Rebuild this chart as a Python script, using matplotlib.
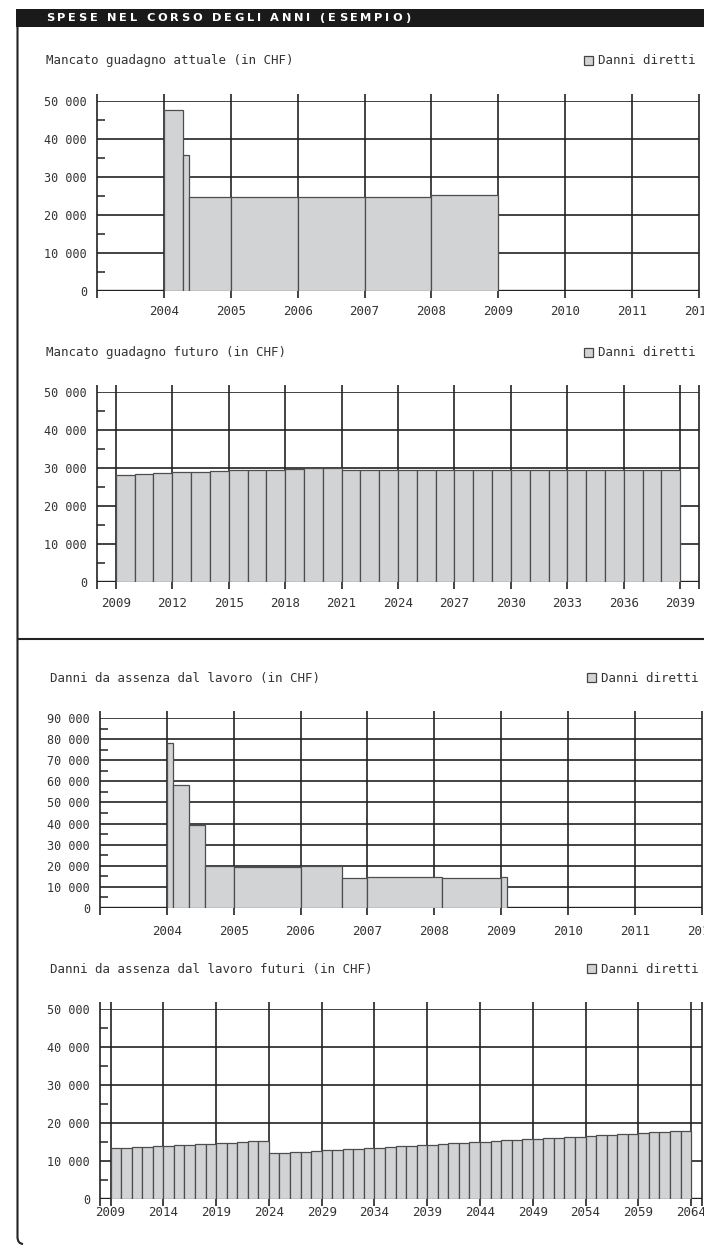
import numpy as np
import matplotlib
matplotlib.use('Agg')
import matplotlib.pyplot as plt
from matplotlib.patches import Rectangle, PathPatch
from matplotlib.path import Path
from matplotlib.font_manager import FontProperties, findfont
from matplotlib.ft2font import FT2Font

W, H = 704, 1246

# --- dati ---
titolo = 'SPESE NEL CORSO DEGLI ANNI (ESEMPIO)'
legenda = 'Danni diretti'

# Mancato guadagno attuale
att_inizio = [2004.0, 2004.28, 2004.38, 2005, 2006, 2007, 2008]
att_fine = [2004.28, 2004.38, 2005, 2006, 2007, 2008, 2009]
att_valori = [47500, 35800, 24650, 24650, 24650, 24800, 25350]
att_anni = [2004, 2005, 2006, 2007, 2008, 2009, 2010, 2011, 2012]

# Mancato guadagno futuro
fut_anni = list(range(2009, 2039))
fut_valori = [28100, 28300, 28500, 28750, 28950, 29100, 29300, 29400, 29500, 29600,
              29800, 29950, 29300, 29300, 29300, 29300, 29300, 29300, 29300, 29300,
              29300, 29300, 29300, 29300, 29300, 29300, 29300, 29300, 29300, 29300]
fut_tick = [2009, 2012, 2015, 2018, 2021, 2024, 2027, 2030, 2033, 2036, 2039]

# Danni da assenza dal lavoro
ass_inizio = [2004.0, 2004.085, 2004.325, 2004.57, 2005, 2006, 2006.62, 2007, 2008.11, 2009]
ass_fine = [2004.085, 2004.325, 2004.57, 2005, 2006, 2006.62, 2007, 2008.11, 2009, 2009.095]
ass_valori = [78300, 58500, 39100, 19800, 19500, 20000, 13900, 14400, 13900, 14400]
ass_anni = [2004, 2005, 2006, 2007, 2008, 2009, 2010, 2011, 2012]

# Danni da assenza dal lavoro futuri
assf_anni = list(range(2009, 2064))
assf_valori = [13420, 13510, 13680, 13860, 13950, 14120, 14210, 14390, 14470, 14650,
               14740, 14910, 15000, 15260, 15440,
               12100, 12280, 12370, 12540, 12720, 12890, 12980, 13160, 13330, 13420,
               13600, 13770, 13950, 14120, 14210, 14390, 14560, 14740, 14910, 15000,
               15180, 15350, 15530, 15610, 15790, 15960, 16050, 16230, 16400, 16490,
               16670, 16840, 17020, 17110, 17280, 17460, 17630, 17720, 17890, 18070]
assf_tick = [2009, 2014, 2019, 2024, 2029, 2034, 2039, 2044, 2049, 2054, 2059, 2064]

LINEA = '#222222'
GRIGIO = '#d2d3d5'
BORDO = '#4d4d4d'
TESTO = '#333333'
MONO = 'DejaVu Sans Mono'
FS = 9

fig = plt.figure(figsize=(W / 100, H / 100), dpi=100)
fig.patch.set_facecolor('white')

# sfondo in coordinate pixel
bg = fig.add_axes([0, 0, 1, 1])
bg.set_xlim(0, W)
bg.set_ylim(H, 0)
bg.axis('off')

# barra del titolo (testo spaziato carattere per carattere)
bg.add_patch(Rectangle((16, 9), W - 16, 18.3, color='#1a1a1a', lw=0))
fp = FontProperties(family='DejaVu Sans', weight='bold', size=8.2)
font = FT2Font(findfont(fp))
font.set_size(8.2, 100)
avanzi = [font.load_char(ord(c)).linearHoriAdvance / 65536 for c in titolo]
track = (364 - sum(avanzi)) / (len(titolo) - 1)
x = 46
for c, a in zip(titolo, avanzi):
    if c != ' ':
        bg.text(x, 21, c, color='white', fontproperties=fp,
                ha='left', va='baseline')
    x += a + track

# bordo sinistro e separatore
verts = [(17.5, 27), (17.5, 1237), (17.5, 1243.5), (23, 1244)]
codes = [Path.MOVETO, Path.LINETO, Path.CURVE3, Path.CURVE3]
bg.add_patch(PathPatch(Path(verts, codes), fill=False, lw=1.5, edgecolor=LINEA))
bg.plot([17.5, W], [639, 639], color=LINEA, lw=1.5, solid_capstyle='butt')


def rect_px(x0, x1, ytop, ybot):
    return [x0 / W, 1 - ybot / H, (x1 - x0) / W, (ybot - ytop) / H]


def pannello(rect, xlim, ymax, tick, sinistra, larghezze, valori, nome,
             titolo_xy, leg_x, off_label):
    ax = fig.add_axes(rect_px(*rect))
    ax.set_xlim(*xlim)
    ax.set_ylim(0, ymax)
    ax.set_facecolor('none')
    for s in ax.spines.values():
        s.set_visible(False)

    major = np.arange(0, ymax + 1, 10000)
    minor = np.arange(5000, ymax, 10000)
    ax.hlines(major[1:], xlim[0], xlim[1], color=LINEA, lw=1.2, zorder=1)
    ax.hlines(0, xlim[0], xlim[1], color=LINEA, lw=1.7, zorder=1)

    est = 7 / (rect[3] - rect[2])
    vx = sorted(set([xlim[0]] + tick + [xlim[1]]))
    ax.vlines(vx, -est, 1 + est, transform=ax.get_xaxis_transform(),
              color=LINEA, lw=1.2, clip_on=False, zorder=1)

    ax.bar(sinistra, valori, width=larghezze, align='edge', color=GRIGIO,
           edgecolor=BORDO, lw=0.9, zorder=2)

    ax.set_yticks(major)
    ax.set_yticklabels([f'{int(v):,}'.replace(',', ' ') for v in major])
    ax.set_yticks(minor, minor=True)
    ax.tick_params(axis='y', which='major', length=0, pad=7.2,
                   labelsize=8.5, labelcolor=TESTO)
    ax.tick_params(axis='y', which='minor', direction='in', length=5.8,
                   width=1.1, color=LINEA)
    ax.set_xticks(tick)
    ax.set_xticklabels([str(t) for t in tick])
    ax.tick_params(axis='x', length=0, pad=off_label * 0.72,
                   labelsize=FS, labelcolor=TESTO)
    for lab in ax.get_xticklabels() + ax.get_yticklabels():
        lab.set_fontfamily(MONO)

    # titolo e legenda
    bg.text(titolo_xy[0], titolo_xy[1], nome, fontfamily=MONO, fontsize=FS,
            color=TESTO, ha='left', va='baseline')
    bg.add_patch(Rectangle((leg_x, titolo_xy[1] - 8.5), 9, 9, facecolor=GRIGIO,
                           edgecolor='#444444', lw=0.9))
    bg.text(leg_x + 14.5, titolo_xy[1], legenda, fontfamily=MONO, fontsize=FS,
            color=TESTO, ha='left', va='baseline')
    return ax


pannello((97, 699, 100.7, 291), (2003, 2012), 50000, att_anni,
         att_inizio, np.array(att_fine) - np.array(att_inizio), att_valori,
         'Mancato guadagno attuale (in CHF)', (46, 64.3), 583.5, 14)

pannello((97, 699, 391.7, 581.7), (2008, 2040), 50000, fut_tick,
         fut_anni, 1.0, fut_valori,
         'Mancato guadagno futuro (in CHF)', (46, 356), 584, 15)

pannello((100, 701.7, 718.3, 907.7), (2003, 2012), 90000, ass_anni,
         ass_inizio, np.array(ass_fine) - np.array(ass_inizio), ass_valori,
         'Danni da assenza dal lavoro (in CHF)', (50, 681.7), 586.7, 17)

pannello((100, 701.7, 1009.3, 1199.3), (2008, 2065), 50000, assf_tick,
         assf_anni, 1.0, assf_valori,
         'Danni da assenza dal lavoro futuri (in CHF)', (50, 972.7), 586.7, 6.7)

fig.savefig('out.png', dpi=100, facecolor='white')
